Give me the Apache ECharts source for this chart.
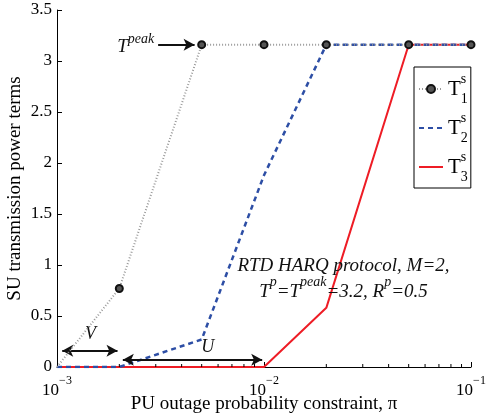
<!DOCTYPE html>
<html lang="en">
<head>
    <meta charset="UTF-8">
    <title>SU transmission power terms</title>
    <script src="https://cdn.jsdelivr.net/npm/echarts@6/dist/echarts.min.js"></script>
    <style>
        *{
            padding:0;
            margin:0;
        }
        html,body{
            height:100%;
            background:#fff;
        }
        #main{
            width:486px;
            height:419px;
        }
    </style>
</head>
<body>
<div id="main"></div>
<script>
    // outage constraint values (x, log axis)
    var piValues = [0.001, 0.002, 0.005, 0.01, 0.02, 0.05, 0.1];
    var t1 = [0, 0.77, 3.16, 3.16, 3.16, 3.16, 3.16];
    var t2 = [0, 0, 0.27, 1.88, 3.16, 3.16, 3.16];
    var t3 = [0, 0, 0, 0, 0.58, 3.16, 3.16];
    var minorTicks = [0.002, 0.003, 0.004, 0.005, 0.006, 0.007, 0.008, 0.009,
                      0.02, 0.03, 0.04, 0.05, 0.06, 0.07, 0.08, 0.09];

    var serif = '"Liberation Serif", "DejaVu Serif", serif';

    function pairs(ys){
        var res = [];
        for(var i=0;i<piValues.length;i++){
            res.push([piValues[i], ys[i]]);
        }
        return res;
    }

    var t1Data = pairs(t1);
    // no marker drawn at the origin
    t1Data[0] = {value: t1Data[0], symbol: 'none'};

    var myChart = echarts.init(document.getElementById('main'));

    var option = {
        backgroundColor: '#fff',
        animation: false,
        grid: {
            left: 57,
            right: 15,
            top: 10,
            bottom: 52,
            containLabel: false,
            outerBoundsMode: 'none'
        },
        legend: {
            orient: 'vertical',
            left: 414,
            top: 67,
            padding: [5, 3, 4, 4],
            itemGap: 5,
            itemWidth: 24,
            itemHeight: 10,
            borderColor: '#000',
            borderWidth: 1,
            backgroundColor: '#fff',
            data: [
                {name: 'T1'},
                {name: 'T2', itemStyle: {opacity: 0}},
                {name: 'T3', itemStyle: {opacity: 0}}
            ],
            formatter: function (name) {
                return '{t|T}{s|s}{n|' + name.charAt(1) + '}';
            },
            textStyle: {
                fontFamily: serif,
                rich: {
                    t: {fontSize: 21, fontFamily: serif, color: '#000', lineHeight: 34, verticalAlign: 'middle'},
                    s: {fontSize: 14, fontFamily: serif, color: '#000', width: 0, verticalAlign: 'top', lineHeight: 14},
                    n: {fontSize: 14, fontFamily: serif, color: '#000', verticalAlign: 'bottom', lineHeight: 14}
                }
            }
        },
        xAxis: {
            type: 'log',
            logBase: 10,
            min: 0.001,
            max: 0.1,
            name: 'PU outage probability constraint, \u03c0',
            nameLocation: 'middle',
            nameGap: 28,
            nameMoveOverlap: false,
            nameTextStyle: {
                fontFamily: serif,
                fontSize: 19,
                color: '#000'
            },
            axisLine: {show: true, lineStyle: {color: '#000', width: 1}},
            axisTick: {show: true, inside: true, length: 5, lineStyle: {color: '#000'}},
            splitLine: {show: false},
            axisLabel: {
                margin: 8,
                formatter: function (v) {
                    var e = Math.round(Math.log(v) / Math.LN10);
                    return '{b|10}{sup|\u2212' + Math.abs(e) + '}';
                },
                rich: {
                    b: {fontFamily: serif, fontSize: 17, color: '#000', verticalAlign: 'bottom', lineHeight: 24},
                    sup: {fontFamily: serif, fontSize: 12, color: '#000', verticalAlign: 'top', lineHeight: 12}
                }
            }
        },
        yAxis: {
            type: 'value',
            min: 0,
            max: 3.5,
            interval: 0.5,
            name: 'SU transmission power terms',
            nameLocation: 'middle',
            nameGap: 32,
            nameMoveOverlap: false,
            nameTextStyle: {
                fontFamily: serif,
                fontSize: 19,
                color: '#000'
            },
            axisLine: {show: true, lineStyle: {color: '#000', width: 1}},
            axisTick: {show: true, inside: true, length: 5, lineStyle: {color: '#000'}},
            splitLine: {show: false},
            axisLabel: {
                margin: 5,
                fontFamily: serif,
                fontSize: 17,
                color: '#000'
            }
        },
        series: [
            {
                name: 'T3',
                type: 'line',
                data: pairs(t3),
                symbol: 'none',
                z: 3,
                lineStyle: {color: '#ee1c25', width: 2},
                itemStyle: {color: '#ee1c25'},
                markLine: {
                    silent: true,
                    symbolSize: [9, 11],
                    label: {show: false},
                    lineStyle: {color: '#111', width: 2, type: 'solid'},
                    data: [
                        [{coord: [0.00106, 0.16], symbol: 'arrow'}, {coord: [0.00196, 0.16], symbol: 'arrow'}],
                        [{coord: [0.00208, 0.07], symbol: 'arrow'}, {coord: [0.0098, 0.07], symbol: 'arrow'}],
                        [{coord: [0.00308, 3.16], symbol: 'none'}, {coord: [0.00462, 3.16], symbol: 'arrow'}]
                    ]
                },
                markPoint: {
                    silent: true,
                    symbol: 'circle',
                    symbolSize: 0,
                    label: {
                        show: true,
                        position: 'inside',
                        color: '#111',
                        fontFamily: serif,
                        fontStyle: 'italic',
                        fontSize: 18
                    },
                    data: [
                        {coord: [0.00145, 0.32], label: {formatter: 'V'}},
                        {coord: [0.00535, 0.19], label: {formatter: 'U'}},
                        {
                            coord: [0.0024, 3.16],
                            label: {
                                formatter: '{i|T}{p|peak}',
                                rich: {
                                    i: {fontFamily: serif, fontStyle: 'italic', fontSize: 19, color: '#111', verticalAlign: 'bottom', lineHeight: 24},
                                    p: {fontFamily: serif, fontStyle: 'italic', fontSize: 14, color: '#111', verticalAlign: 'top', lineHeight: 14}
                                }
                            }
                        },
                        {
                            coord: [0.0242, 0.9],
                            label: {
                                formatter: '{i|RTD HARQ protocol, M=2,}\n{i|T}{p|p}{i|=T}{p|peak}{i|=3.2, R}{p|p}{i|=0.5}',
                                lineHeight: 26,
                                rich: {
                                    i: {fontFamily: serif, fontStyle: 'italic', fontSize: 19, color: '#111', verticalAlign: 'bottom', lineHeight: 26},
                                    p: {fontFamily: serif, fontStyle: 'italic', fontSize: 14, color: '#111', verticalAlign: 'top', lineHeight: 26}
                                }
                            }
                        }
                    ]
                }
            },
            {
                name: 'T2',
                type: 'line',
                data: pairs(t2),
                symbol: 'none',
                z: 4,
                lineStyle: {color: '#2d4ea5', width: 2.5, type: [5, 4]},
                itemStyle: {color: '#2d4ea5'}
            },
            {
                name: 'T1',
                type: 'line',
                data: t1Data,
                symbol: 'circle',
                symbolSize: 7,
                showAllSymbol: true,
                z: 5,
                lineStyle: {color: '#9a9a9a', width: 2, type: [1, 2]},
                itemStyle: {color: '#555', borderColor: '#111', borderWidth: 2}
            },
            {
                // minor ticks of the log axis
                type: 'custom',
                silent: true,
                z: 6,
                data: minorTicks.map(function (v) { return [v, 0]; }),
                encode: {x: 0, y: 1},
                renderItem: function (params, api) {
                    var p = api.coord([api.value(0), 0]);
                    return {
                        type: 'line',
                        shape: {x1: p[0], y1: p[1], x2: p[0], y2: p[1] - 3},
                        style: {stroke: '#000', lineWidth: 1}
                    };
                }
            }
        ]
    };
    myChart.setOption(option);
</script>
</body>
</html>
